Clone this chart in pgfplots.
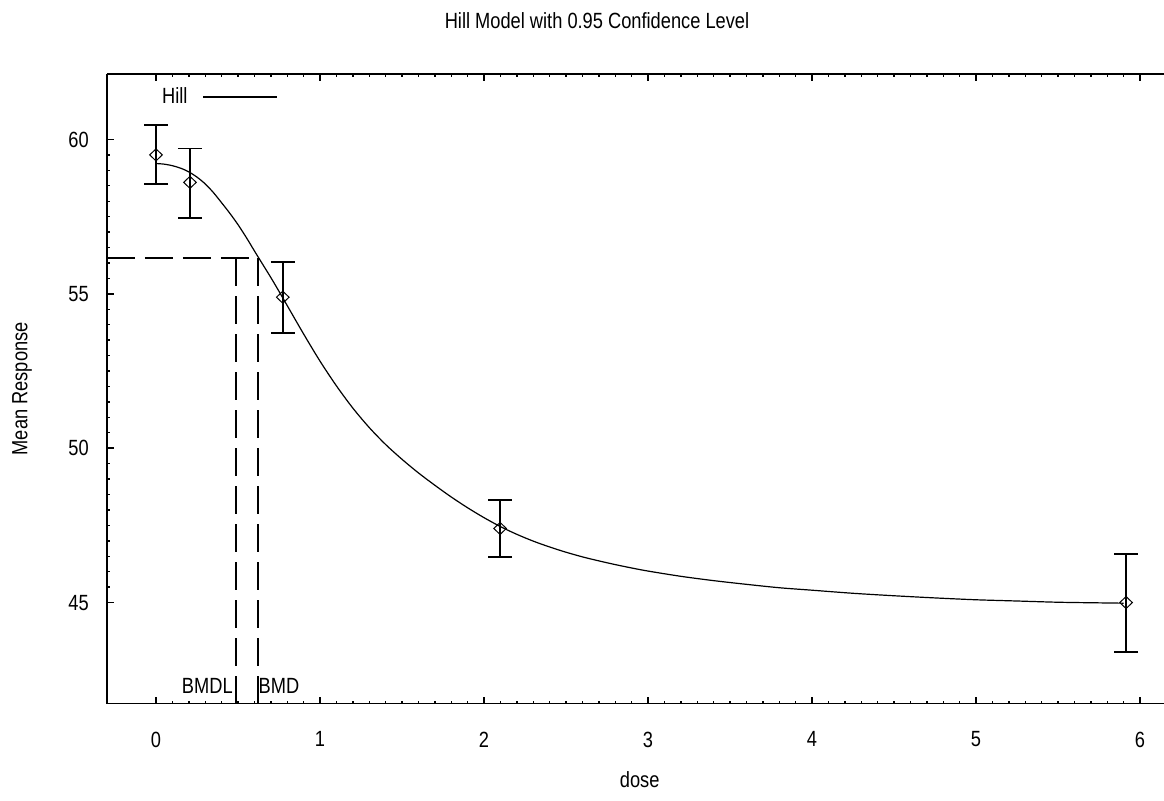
\documentclass[border=0pt]{standalone}
\usepackage{fontspec}
\setmainfont{Liberation Sans}[FakeStretch=0.83]
\usepackage{pgfplots}
\usepackage{pgfplotstable}
\pgfplotsset{compat=1.18}

\pgfplotstableread{
x y
0.00 59.22
0.05 59.20
0.10 59.15
0.15 59.07
0.20 58.95
0.25 58.78
0.30 58.56
0.35 58.28
0.40 57.95
0.45 57.61
0.50 57.24
0.55 56.83
0.60 56.39
0.65 55.96
0.70 55.53
0.75 55.08
0.80 54.62
0.90 53.70
1.00 52.82
1.10 52.02
1.20 51.30
1.30 50.67
1.40 50.12
1.50 49.64
1.60 49.20
1.70 48.80
1.80 48.42
1.90 48.07
2.00 47.75
2.10 47.46
2.20 47.21
2.30 46.99
2.40 46.80
2.50 46.63
2.60 46.48
2.70 46.35
2.80 46.23
2.90 46.12
3.00 46.02
3.20 45.85
3.40 45.71
3.60 45.59
3.80 45.48
4.00 45.40
4.25 45.30
4.50 45.22
4.75 45.15
5.00 45.09
5.25 45.05
5.50 45.01
5.75 44.99
5.90 44.98
}\curve

\pgfplotstableread{
x y ep em
0.000 59.50 0.97 0.95
0.207 58.61 1.10 1.16
0.773 54.89 1.13 1.15
2.098 47.40 0.92 0.92
5.915 45.00 1.58 1.61
}\obs

\begin{document}
\fontsize{11}{13}\selectfont
\begin{tikzpicture}
\begin{axis}[
  scale only axis,
  width=528.5pt, height=314.75pt,
  xmin=-0.2988, xmax=6.1463,
  ymin=41.73, ymax=62.12,
  axis x line*=box, axis y line*=left,
  axis line style={-, line width=0.9pt},
  every outer x axis line/.append style={-},
  every outer y axis line/.append style={-},
  tick align=inside,
  xtick={0,1,2,3,4,5,6},
  ytick={45,50,55,60},
  minor x tick num=9,
  minor y tick num=9,
  major tick length=3.5pt,
  minor tick length=1.5pt,
  every tick/.style={black, line width=0.7pt},
  /pgf/number format/assume math mode=true,
  yticklabel style={anchor=east, xshift=-5.3pt},
  xticklabel style={anchor=north, yshift=-10.3pt},
  title={Hill Model with 0.95 Confidence Level},
  every axis title shift=0pt,
  title style={at={(0.4636,1.0842)}, anchor=center, yshift=0pt},
  xlabel={dose},
  xlabel style={at={(0.504,-0.1215)}, anchor=center},
  ylabel={Mean Response},
  ylabel style={at={(-0.0804,0.5)}, anchor=center},
  legend style={draw=none, fill=none, at={(0.048,0.9635)}, anchor=west, inner sep=0pt},
  legend plot pos=right,
  legend image code/.code={\path (0pt,0pt); \draw[#1] (5.5pt,0pt) -- (42.5pt,0pt);},
  clip=false,
]
\addplot[black, line width=0.6pt, smooth] table[x=x, y=y] {\curve};
\addlegendentry{Hill}

\addplot[forget plot, only marks, black, mark=diamond, mark size=3pt,
  mark options={fill=white, xscale=1.4, line width=0.5pt},
  error bars/.cd, y dir=both, y explicit,
  error bar style={line width=0.9pt, black},
  error mark options={rotate=90, mark size=6pt, line width=0.9pt, black}]
  table[x=x, y=y, y error plus=ep, y error minus=em] {\obs};

\addplot[forget plot, black, line width=0.9pt, dash pattern=on 14pt off 5pt]
  coordinates {(-0.2988,56.15) (0.624,56.15)};
\addplot[forget plot, black, line width=0.9pt, dash pattern=on 14pt off 5pt]
  coordinates {(0.486,56.15) (0.486,41.73)};
\addplot[forget plot, black, line width=0.9pt, dash pattern=on 14pt off 5pt]
  coordinates {(0.624,56.15) (0.624,41.73)};

\node[anchor=base east, inner sep=0pt] at (axis cs:0.486,41.73) [yshift=5.25pt, xshift=-1.3pt] {BMDL};
\node[anchor=base west, inner sep=0pt] at (axis cs:0.624,41.73) [yshift=5.25pt] {BMD};
\end{axis}
\pgfresetboundingbox
\path (current axis.south west) ++(-53.5pt,-48.25pt) rectangle ++(582pt,400pt);
\end{tikzpicture}
\end{document}
